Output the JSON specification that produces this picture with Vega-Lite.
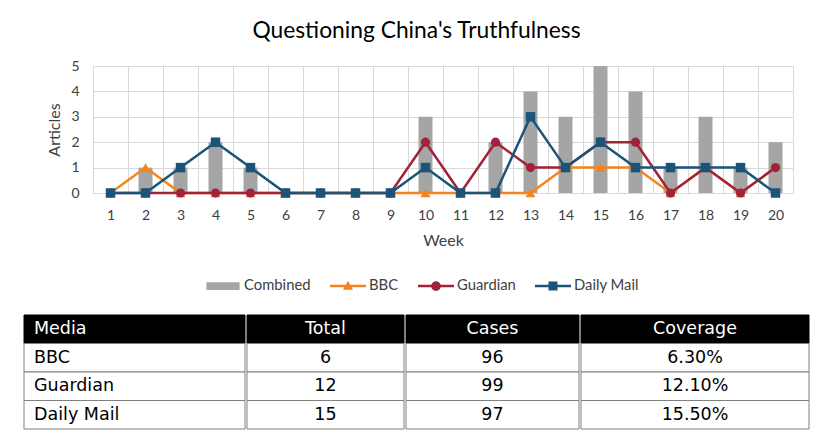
{
  "$schema": "https://vega.github.io/schema/vega-lite/v6.json",
  "background": "white",
  "padding": {"left": 23, "top": 20, "right": 0, "bottom": 0},
  "title": {"text": "Questioning China's Truthfulness", "font": "Lato", "fontSize": 22.8, "fontWeight": "normal", "color": "#000000", "anchor": "middle", "offset": 16},
  "config": {
    "view": {"stroke": null},
    "font": "Lato",
    "axis": {"labelFont": "Lato", "titleFont": "Lato", "labelColor": "#404040", "titleColor": "#404040", "titleFontWeight": "normal", "gridColor": "#d9d9d9", "gridWidth": 1}
  },
  "datasets": {
    "weekly": [
      {"week": 1, "series": "Combined", "value": 0}, {"week": 2, "series": "Combined", "value": 1}, {"week": 3, "series": "Combined", "value": 1}, {"week": 4, "series": "Combined", "value": 2}, {"week": 5, "series": "Combined", "value": 1},
      {"week": 6, "series": "Combined", "value": 0}, {"week": 7, "series": "Combined", "value": 0}, {"week": 8, "series": "Combined", "value": 0}, {"week": 9, "series": "Combined", "value": 0}, {"week": 10, "series": "Combined", "value": 3},
      {"week": 11, "series": "Combined", "value": 0}, {"week": 12, "series": "Combined", "value": 2}, {"week": 13, "series": "Combined", "value": 4}, {"week": 14, "series": "Combined", "value": 3}, {"week": 15, "series": "Combined", "value": 5},
      {"week": 16, "series": "Combined", "value": 4}, {"week": 17, "series": "Combined", "value": 1}, {"week": 18, "series": "Combined", "value": 3}, {"week": 19, "series": "Combined", "value": 1}, {"week": 20, "series": "Combined", "value": 2},
      {"week": 1, "series": "BBC", "value": 0}, {"week": 2, "series": "BBC", "value": 1}, {"week": 3, "series": "BBC", "value": 0}, {"week": 4, "series": "BBC", "value": 0}, {"week": 5, "series": "BBC", "value": 0},
      {"week": 6, "series": "BBC", "value": 0}, {"week": 7, "series": "BBC", "value": 0}, {"week": 8, "series": "BBC", "value": 0}, {"week": 9, "series": "BBC", "value": 0}, {"week": 10, "series": "BBC", "value": 0},
      {"week": 11, "series": "BBC", "value": 0}, {"week": 12, "series": "BBC", "value": 0}, {"week": 13, "series": "BBC", "value": 0}, {"week": 14, "series": "BBC", "value": 1}, {"week": 15, "series": "BBC", "value": 1},
      {"week": 16, "series": "BBC", "value": 1}, {"week": 17, "series": "BBC", "value": 0}, {"week": 18, "series": "BBC", "value": 1}, {"week": 19, "series": "BBC", "value": 0}, {"week": 20, "series": "BBC", "value": 1},
      {"week": 1, "series": "Guardian", "value": 0}, {"week": 2, "series": "Guardian", "value": 0}, {"week": 3, "series": "Guardian", "value": 0}, {"week": 4, "series": "Guardian", "value": 0}, {"week": 5, "series": "Guardian", "value": 0},
      {"week": 6, "series": "Guardian", "value": 0}, {"week": 7, "series": "Guardian", "value": 0}, {"week": 8, "series": "Guardian", "value": 0}, {"week": 9, "series": "Guardian", "value": 0}, {"week": 10, "series": "Guardian", "value": 2},
      {"week": 11, "series": "Guardian", "value": 0}, {"week": 12, "series": "Guardian", "value": 2}, {"week": 13, "series": "Guardian", "value": 1}, {"week": 14, "series": "Guardian", "value": 1}, {"week": 15, "series": "Guardian", "value": 2},
      {"week": 16, "series": "Guardian", "value": 2}, {"week": 17, "series": "Guardian", "value": 0}, {"week": 18, "series": "Guardian", "value": 1}, {"week": 19, "series": "Guardian", "value": 0}, {"week": 20, "series": "Guardian", "value": 1},
      {"week": 1, "series": "Daily Mail", "value": 0}, {"week": 2, "series": "Daily Mail", "value": 0}, {"week": 3, "series": "Daily Mail", "value": 1}, {"week": 4, "series": "Daily Mail", "value": 2}, {"week": 5, "series": "Daily Mail", "value": 1},
      {"week": 6, "series": "Daily Mail", "value": 0}, {"week": 7, "series": "Daily Mail", "value": 0}, {"week": 8, "series": "Daily Mail", "value": 0}, {"week": 9, "series": "Daily Mail", "value": 0}, {"week": 10, "series": "Daily Mail", "value": 1},
      {"week": 11, "series": "Daily Mail", "value": 0}, {"week": 12, "series": "Daily Mail", "value": 0}, {"week": 13, "series": "Daily Mail", "value": 3}, {"week": 14, "series": "Daily Mail", "value": 1}, {"week": 15, "series": "Daily Mail", "value": 2},
      {"week": 16, "series": "Daily Mail", "value": 1}, {"week": 17, "series": "Daily Mail", "value": 1}, {"week": 18, "series": "Daily Mail", "value": 1}, {"week": 19, "series": "Daily Mail", "value": 1}, {"week": 20, "series": "Daily Mail", "value": 0}
    ],
    "table": [
      {"row": "Header", "col": "Media", "text": "Media"}, {"row": "Header", "col": "Total", "text": "Total"}, {"row": "Header", "col": "Cases", "text": "Cases"}, {"row": "Header", "col": "Coverage", "text": "Coverage"},
      {"row": "BBC", "col": "Media", "text": "BBC"}, {"row": "BBC", "col": "Total", "text": "6"}, {"row": "BBC", "col": "Cases", "text": "96"}, {"row": "BBC", "col": "Coverage", "text": "6.30%"},
      {"row": "Guardian", "col": "Media", "text": "Guardian"}, {"row": "Guardian", "col": "Total", "text": "12"}, {"row": "Guardian", "col": "Cases", "text": "99"}, {"row": "Guardian", "col": "Coverage", "text": "12.10%"},
      {"row": "Daily Mail", "col": "Media", "text": "Daily Mail"}, {"row": "Daily Mail", "col": "Total", "text": "15"}, {"row": "Daily Mail", "col": "Cases", "text": "97"}, {"row": "Daily Mail", "col": "Coverage", "text": "15.50%"}
    ]
  },
  "spacing": 21,
  "resolve": {"scale": {"color": "independent", "shape": "independent"}, "legend": {"color": "independent", "shape": "independent"}},
  "vconcat": [
    {
      "spacing": 0,
      "resolve": {"scale": {"color": "independent", "shape": "independent"}, "legend": {"color": "independent", "shape": "independent"}},
      "hconcat": [
        {"width": 22, "height": 10, "data": {"values": []}, "mark": "point"},
        {
          "width": 700,
          "height": 127,
          "data": {"name": "weekly"},
          "encoding": {
            "x": {"field": "week", "type": "ordinal", "scale": {"paddingInner": 0, "paddingOuter": 0},
              "axis": {"title": "Week", "labelAngle": 0, "tickBand": "extent", "grid": true, "ticks": false, "domainColor": "#d9d9d9", "labelFontSize": 14, "titleFontSize": 16, "labelPadding": 15, "titlePadding": 10}},
            "y": {"field": "value", "type": "quantitative", "scale": {"domain": [0, 5]},
              "axis": {"title": "Articles", "values": [0, 1, 2, 3, 4, 5], "grid": true, "domain": false, "ticks": false, "labelFontSize": 14, "titleFontSize": 16, "labelPadding": 14, "titlePadding": 8}}
          },
          "layer": [
            {"transform": [{"filter": "datum.series === 'Combined'"}], "mark": {"type": "bar", "color": "#a5a5a5", "width": {"band": 0.4}}},
            {"transform": [{"filter": "datum.series === 'BBC'"}], "mark": {"type": "line", "color": "#f5841f", "strokeWidth": 2.5, "point": {"shape": "triangle-up", "size": 100, "filled": true, "opacity": 1, "color": "#f5841f"}}},
            {"transform": [{"filter": "datum.series === 'Guardian'"}], "mark": {"type": "line", "color": "#a0233a", "strokeWidth": 2.5, "point": {"shape": "circle", "size": 85, "filled": true, "opacity": 1, "color": "#a0233a"}}},
            {"transform": [{"filter": "datum.series === 'Daily Mail'"}], "mark": {"type": "line", "color": "#1b5478", "strokeWidth": 2.5, "point": {"shape": "square", "size": 90, "filled": true, "opacity": 1, "color": "#1b5478"}}},
            {
              "transform": [{"filter": "false"}],
              "mark": {"type": "point", "filled": true, "opacity": 1},
              "encoding": {
                "color": {"field": "series", "type": "nominal",
                  "scale": {"domain": ["Combined", "BBC", "Guardian", "Daily Mail"], "range": ["#a5a5a5", "#f5841f", "#a0233a", "#1b5478"]},
                  "legend": {"orient": "none", "legendX": 112, "legendY": 202, "direction": "horizontal", "title": null, "symbolSize": 1296, "labelFontSize": 14.8, "labelFont": "Lato", "labelColor": "#404040", "columnPadding": 19, "labelOffset": 3, "symbolStrokeWidth": 0, "symbolOpacity": 1}},
                "shape": {"field": "series", "type": "nominal",
                  "scale": {"domain": ["Combined", "BBC", "Guardian", "Daily Mail"],
                    "range": [
                      "M-0.92,-0.22H0.92V0.22H-0.92Z",
                      "M-1,-0.07H1V0.07H-1Z M0,-0.3L0.28,0.2H-0.28Z",
                      "M-1,-0.07H1V0.07H-1Z M0.27,0A0.27,0.27 0 1 1 -0.27,0A0.27,0.27 0 1 1 0.27,0Z",
                      "M-1,-0.07H1V0.07H-1Z M-0.25,-0.25H0.25V0.25H-0.25Z"
                    ]},
                  "legend": {"orient": "none", "legendX": 112, "legendY": 202, "direction": "horizontal", "title": null, "symbolSize": 1296, "labelFontSize": 14.8, "labelFont": "Lato", "labelColor": "#404040", "columnPadding": 19, "labelOffset": 3, "symbolStrokeWidth": 0, "symbolOpacity": 1}}
              }
            }
          ]
        }
      ]
    },
    {
      "spacing": 0,
      "hconcat": [
        {
          "width": 221, "height": 114,
          "data": {"name": "table"},
          "transform": [{"filter": "datum.col === 'Media'"}],
          "encoding": {"y": {"field": "row", "type": "nominal", "sort": ["Header", "BBC", "Guardian", "Daily Mail"], "scale": {"paddingInner": 0, "paddingOuter": 0}, "axis": null}},
          "layer": [
            {"mark": {"type": "rect", "strokeWidth": 1}, "encoding": {"fill": {"condition": {"test": "datum.row === 'Header'", "value": "#000000"}, "value": "#ffffff"}, "stroke": {"condition": {"test": "datum.row === 'Header'", "value": "#000000"}, "value": "#808080"}}},
            {"mark": {"type": "text", "font": "DejaVu Sans", "fontSize": 17.5, "align": "left", "dx": 10},
              "encoding": {"x": {"datum": 0, "type": "quantitative", "scale": {"domain": [0, 1]}, "axis": null}, "text": {"field": "text"}, "color": {"condition": {"test": "datum.row === 'Header'", "value": "#ffffff"}, "value": "#000000"}}}
          ]
        },
        {
          "width": 157, "height": 114,
          "data": {"name": "table"},
          "transform": [{"filter": "datum.col === 'Total'"}],
          "encoding": {"y": {"field": "row", "type": "nominal", "sort": ["Header", "BBC", "Guardian", "Daily Mail"], "scale": {"paddingInner": 0, "paddingOuter": 0}, "axis": null}},
          "layer": [
            {"mark": {"type": "rect", "strokeWidth": 1}, "encoding": {"fill": {"condition": {"test": "datum.row === 'Header'", "value": "#000000"}, "value": "#ffffff"}, "stroke": {"condition": {"test": "datum.row === 'Header'", "value": "#000000"}, "value": "#808080"}}},
            {"mark": {"type": "text", "font": "DejaVu Sans", "fontSize": 17.5, "align": "center"},
              "encoding": {"text": {"field": "text"}, "color": {"condition": {"test": "datum.row === 'Header'", "value": "#ffffff"}, "value": "#000000"}}}
          ]
        },
        {
          "width": 173, "height": 114,
          "data": {"name": "table"},
          "transform": [{"filter": "datum.col === 'Cases'"}],
          "encoding": {"y": {"field": "row", "type": "nominal", "sort": ["Header", "BBC", "Guardian", "Daily Mail"], "scale": {"paddingInner": 0, "paddingOuter": 0}, "axis": null}},
          "layer": [
            {"mark": {"type": "rect", "strokeWidth": 1}, "encoding": {"fill": {"condition": {"test": "datum.row === 'Header'", "value": "#000000"}, "value": "#ffffff"}, "stroke": {"condition": {"test": "datum.row === 'Header'", "value": "#000000"}, "value": "#808080"}}},
            {"mark": {"type": "text", "font": "DejaVu Sans", "fontSize": 17.5, "align": "center"},
              "encoding": {"text": {"field": "text"}, "color": {"condition": {"test": "datum.row === 'Header'", "value": "#ffffff"}, "value": "#000000"}}}
          ]
        },
        {
          "width": 228, "height": 114,
          "data": {"name": "table"},
          "transform": [{"filter": "datum.col === 'Coverage'"}],
          "encoding": {"y": {"field": "row", "type": "nominal", "sort": ["Header", "BBC", "Guardian", "Daily Mail"], "scale": {"paddingInner": 0, "paddingOuter": 0}, "axis": null}},
          "layer": [
            {"mark": {"type": "rect", "strokeWidth": 1}, "encoding": {"fill": {"condition": {"test": "datum.row === 'Header'", "value": "#000000"}, "value": "#ffffff"}, "stroke": {"condition": {"test": "datum.row === 'Header'", "value": "#000000"}, "value": "#808080"}}},
            {"mark": {"type": "text", "font": "DejaVu Sans", "fontSize": 17.5, "align": "center"},
              "encoding": {"text": {"field": "text"}, "color": {"condition": {"test": "datum.row === 'Header'", "value": "#ffffff"}, "value": "#000000"}}}
          ]
        }
      ]
    }
  ]
}
